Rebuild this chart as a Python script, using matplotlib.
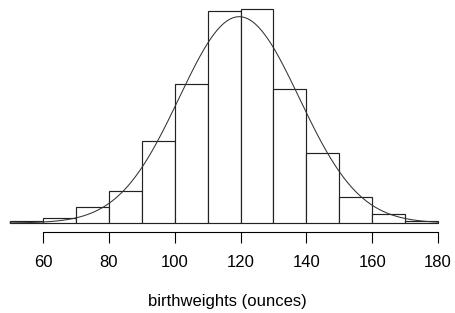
import numpy as np
import matplotlib.pyplot as plt

plt.rcParams['font.family'] = ['Liberation Sans', 'DejaVu Sans']

# histogram bins (ounces) and counts
bin_edges = [50, 60, 70, 80, 90, 100, 110, 120, 130, 140, 150, 160, 170, 180]
counts = [2, 7, 21, 42, 107, 182, 278, 280, 176, 92, 34, 12, 3]

# fitted normal curve parameters
mu = 119.6
sigma = 18.24
n_total = sum(counts)
binwidth = 10

fig = plt.figure(figsize=(4.55, 3.13), dpi=100)
ax = fig.add_axes([0, 0.2875, 1, 0.7125])

lefts = bin_edges[:-1]
bars = ax.bar(lefts, counts, width=binwidth, align='edge', color='white',
              edgecolor='#222222', linewidth=0.85)
for b in bars:
    b.set_clip_on(False)

xs = np.linspace(50, 180, 400)
ys = n_total * binwidth / (sigma * np.sqrt(2 * np.pi)) * np.exp(-0.5 * ((xs - mu) / sigma) ** 2)
ax.plot(xs, ys, color='#333333', linewidth=0.75, clip_on=False)

ax.set_xlim(46.94, 185.16)
ax.set_ylim(0, 292.2)

for s in ['top', 'right', 'left']:
    ax.spines[s].set_visible(False)
ax.spines['bottom'].set_position(('outward', 6.3))
ax.spines['bottom'].set_bounds(60, 180)
ax.spines['bottom'].set_linewidth(0.8)
ax.set_yticks([])
ax.set_xticks([60, 80, 100, 120, 140, 160, 180])
ax.tick_params(axis='x', length=7.9, width=0.8, pad=9, labelsize=12)
ax.set_xlabel('birthweights (ounces)', fontsize=12, labelpad=17)

fig.savefig('out.png', dpi=100)
